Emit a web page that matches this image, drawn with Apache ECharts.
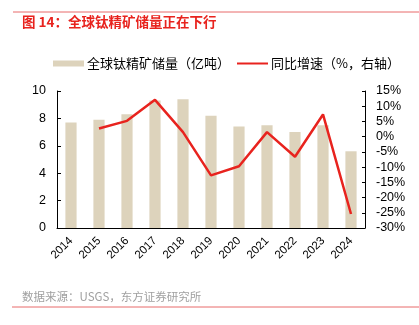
<!DOCTYPE html>
<html><head><meta charset="utf-8">
<script src="https://cdn.jsdelivr.net/npm/echarts@6/dist/echarts.min.js"></script>
<style>html,body{margin:0;padding:0;background:#fff}#c{width:419px;height:325px}</style>
</head><body><div id="c"></div>
<script>
const years = ['2014','2015','2016','2017','2018','2019','2020','2021','2022','2023','2024'];
const reserves = [7.7, 7.9, 8.3, 9.3, 9.4, 8.2, 7.4, 7.5, 7.0, 7.5, 5.6];
const growth = [null, 2.7, 5.2, 12.1, 1.5, -12.7, -9.7, 1.5, -6.6, 7.3, -25.4];
const leftTicks = [0, 2, 4, 6, 8, 10];
const rightTicks = [-30, -25, -20, -15, -10, -5, 0, 5, 10, 15];
const FONT = '"Liberation Sans","Noto Sans CJK SC",sans-serif';
const chart = echarts.init(document.getElementById('c'), null, {renderer:'canvas'});
chart.setOption({
  animation:false,
  textStyle:{fontFamily:FONT},
  graphic:[
    {type:'line', shape:{x1:13,y1:12,x2:419,y2:12}, style:{stroke:'#E86A6A',lineWidth:1}},
    {type:'text', left:22, top:15, style:{text:'图 14：全球钛精矿储量正在下行', fill:'#E8231E', font:'bold 13.5px "Noto Sans CJK SC",sans-serif'}},
    {type:'text', left:22, top:291, style:{text:'数据来源：USGS，东方证券研究所', fill:'#A0A0A0', font:'11.5px "Noto Sans CJK SC",sans-serif'}},
    {type:'line', shape:{x1:12,y1:307,x2:419,y2:307}, style:{stroke:'#E86A6A',lineWidth:1}}
  ],
  legend:{
    top:52, left:48, itemGap:6, itemWidth:31, itemHeight:6,
    textStyle:{fontSize:13, color:'#000', fontFamily:'"Noto Sans CJK SC",sans-serif', padding:[0,0,0,-2]},
    data:[{name:'全球钛精矿储量（亿吨）', icon:'rect'},{name:'同比增速（%，右轴）', itemStyle:{opacity:0}}]
  },
  grid:{left:57, right:54, top:91, bottom:97, containLabel:false},
  xAxis:{type:'category', data:years, boundaryGap:true,
    axisLine:{lineStyle:{color:'#000'}},
    axisTick:{inside:true, length:4, lineStyle:{color:'#000'}},
    axisLabel:{rotate:45, fontSize:11.5, color:'#000', margin:11, interval:0}},
  yAxis:[
    {type:'value', min:0, max:10, interval:2, position:'left',
     axisLine:{show:true, lineStyle:{color:'#000'}},
     axisTick:{show:true, inside:true, length:4, lineStyle:{color:'#000'}},
     axisLabel:{fontSize:12.5, color:'#000', margin:11},
     splitLine:{show:false}},
    {type:'value', min:-30, max:15, interval:5, position:'right',
     axisLine:{show:true, lineStyle:{color:'#000'}},
     axisTick:{show:true, inside:true, length:3, lineStyle:{color:'#000'}},
     axisLabel:{fontSize:12.5, color:'#000', margin:11, formatter:'{value}%'},
     splitLine:{show:false}}
  ],
  series:[
    {name:'全球钛精矿储量（亿吨）', type:'bar', data:reserves, barWidth:'40%', itemStyle:{color:'#DDD3BC'}, yAxisIndex:0},
    {name:'同比增速（%，右轴）', type:'line', data:growth, yAxisIndex:1, symbol:'none',
     lineStyle:{color:'#E8231E', width:2.5}, itemStyle:{color:'#E8231E'}}
  ]
});
</script></body></html>
